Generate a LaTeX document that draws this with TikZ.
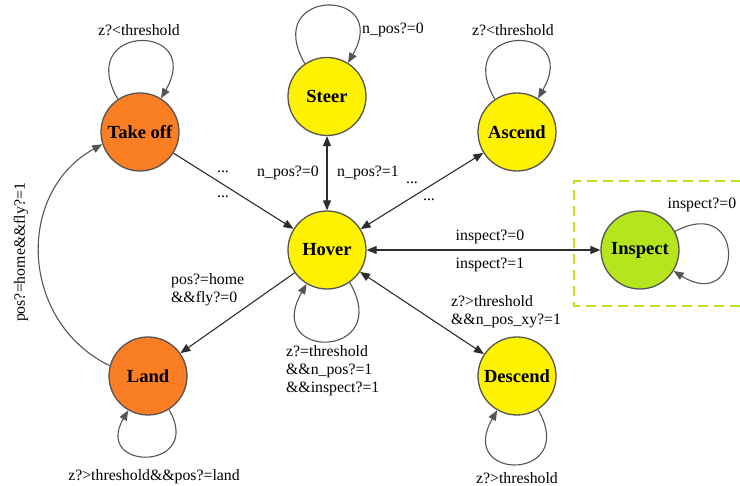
\documentclass[tikz,border=0pt]{standalone}
\usepackage{fontspec}
\setmainfont{Liberation Serif}
\usetikzlibrary{arrows.meta}
\definecolor{orangefill}{RGB}{250,126,35}
\definecolor{yellowfill}{RGB}{255,242,0}
\definecolor{greenfill}{RGB}{181,230,29}
\definecolor{edgecol}{RGB}{45,45,45}
\definecolor{ringcol}{RGB}{85,85,85}
\begin{document}
\begin{tikzpicture}[x=1pt,y=1pt,
  state/.style={circle,minimum size=78pt,inner sep=0pt,draw=ringcol,line width=1.3pt,
    font=\fontsize{18.5}{20}\selectfont\bfseries},
  lbl/.style={font=\fontsize{15.8}{19}\selectfont,inner sep=0pt,align=left},
  conn/.style={draw=edgecol,line width=1.1pt,-{Triangle[length=10pt,width=8pt]}},
  bconn/.style={draw=edgecol,line width=1.1pt,{Triangle[length=10pt,width=8pt]}-{Triangle[length=10pt,width=8pt]}},
  lconn/.style={draw=ringcol,line width=1.1pt,-{Triangle[length=10pt,width=8pt]}}]
\useasboundingbox (0,0) rectangle (740,486);
% dashed frame
\draw[greenfill,line width=2.5pt,dash pattern=on 10pt off 6pt] (740,180) -- (574,180) -- (574,305) -- (740,305);
% states
\node[state,fill=orangefill] (takeoff) at (140,354) {Take off};
\node[state,fill=yellowfill] (steer) at (327,389.5) {Steer};
\node[state,fill=yellowfill] (ascend) at (517,354) {Ascend};
\node[state,fill=yellowfill] (hover) at (327,236) {Hover};
\node[state,fill=greenfill] (inspect) at (640,236) {Inspect};
\node[state,fill=orangefill] (land) at (148,110) {Land};
\node[state,fill=yellowfill] (descend) at (517,110) {Descend};
% self loops
\draw[lconn] (takeoff.124) .. controls +(120:88) and +(60:88) .. (takeoff.58);
\draw[lconn] (steer.124) .. controls +(120:88) and +(60:88) .. (steer.58);
\draw[lconn] (ascend.124) .. controls +(120:88) and +(60:88) .. (ascend.58);
\draw[lconn] (hover.-55) .. controls +(-60:89) and +(-120:89) .. (hover.-121);
\draw[lconn] (land.-58) .. controls +(-60:71) and +(-120:71) .. (land.-120);
\draw[lconn] (descend.-58) .. controls +(-60:83) and +(-120:83) .. (descend.-120);
\draw[lconn] (inspect.28) .. controls +(28:82) and +(-32:82) .. (inspect.-32);
% transitions
\draw[conn] (takeoff) -- (hover);
\draw[bconn] (steer) -- (hover);
\draw[bconn] (hover) -- (ascend);
\draw[bconn] (hover) -- (inspect);
\draw[bconn] (hover) -- (descend);
\draw[conn] (hover) -- (land);
\draw[lconn] (land.165) .. controls +(154:100) and +(209:100) .. (takeoff.198);
% loop labels
\node[lbl] (l1) at (139,456) {z?<threshold};
\node[lbl,anchor=west] (l2) at (362,456) {n\_pos?=0};
\node[lbl] (l3) at (513,456) {z?<threshold};
\node[lbl] (l4) at (702,281) {inspect?=0};
\node[lbl,anchor=west] (l5) at (286,115) {z?=threshold\\[-1pt]\&\&n\_pos?=1\\[-1pt]\&\&inspect?=1};
\node[lbl] (l6) at (154,9) {z?>threshold\&\&pos?=land};
\node[lbl] (l7) at (517,8) {z?>threshold};
% edge labels
\node[lbl] (e1) at (223,314) {...};
\node[lbl] (e2) at (223,289) {...};
\node[lbl,anchor=east] (e3) at (319,313) {n\_pos?=0};
\node[lbl,anchor=west] (e4) at (337,313) {n\_pos?=1};
\node[lbl] (e5) at (412,303) {...};
\node[lbl] (e6) at (429,286) {...};
\node[lbl] (e7) at (490,249) {inspect?=0};
\node[lbl] (e8) at (490,221) {inspect?=1};
\node[lbl,anchor=west] (e9) at (451,174.5) {z?>threshold\\[-1pt]\&\&n\_pos\_xy?=1};
\node[lbl,anchor=west] (e10) at (171,196.5) {pos?=home\\[-1pt]\&\&fly?=0};
\node[lbl,rotate=90] (e11) at (21,233.5) {pos?=home\&\&fly?=1};
\end{tikzpicture}
\end{document}
